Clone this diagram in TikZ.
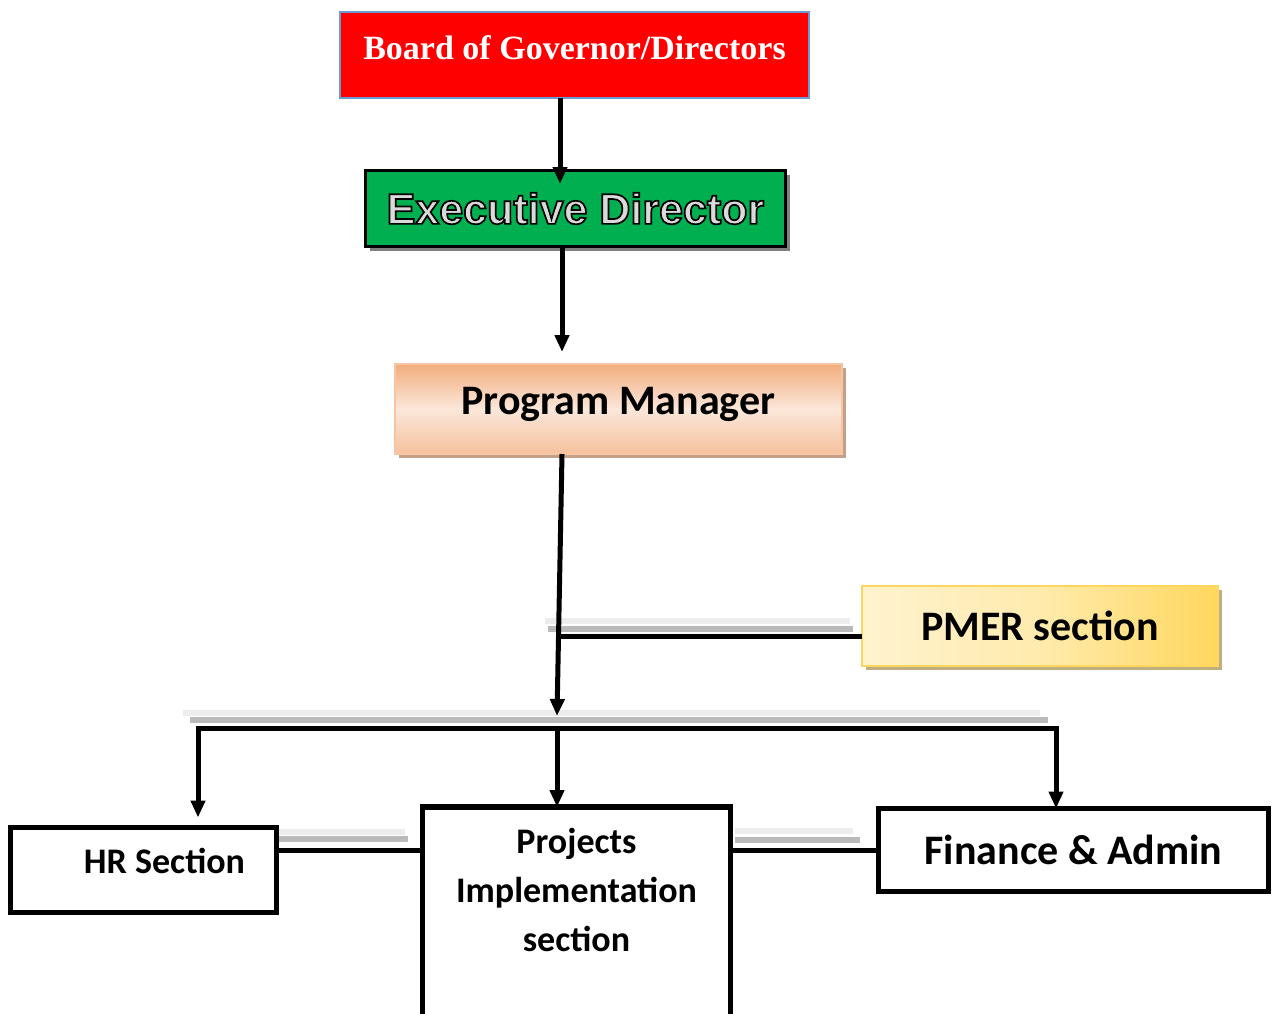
\documentclass[tikz,border=0pt]{standalone}
\usepackage{fontspec}
\setmainfont{Carlito}
\newfontfamily\boardfont{Liberation Serif}
\newfontfamily\edfont{Liberation Sans}
\usetikzlibrary{arrows.meta,shadows}

\definecolor{boardred}{HTML}{FF0000}
\definecolor{boardedge}{HTML}{6A9BD3}
\definecolor{edgreen}{HTML}{00B050}
\definecolor{edtext}{HTML}{DADADA}
\definecolor{edshadow}{HTML}{808080}
\definecolor{pmdark}{HTML}{F2AC7C}
\definecolor{pmlight}{HTML}{FBE7DA}
\definecolor{pmshadow}{HTML}{C5A088}
\definecolor{pmerdark}{HTML}{FFD75E}
\definecolor{pmerlight}{HTML}{FFF3CF}
\definecolor{pmershadow}{HTML}{BFAE80}

% outlined text: fill in the current colour, black stroke
\newcommand\outlined[1]{\special{pdf:literal direct 2 Tr 1.7 w 0 0 0 RG}#1\special{pdf:literal direct 0 Tr}}

\tikzset{
  unit/.style={draw=black,line width=5.5pt,fill=white,inner sep=0pt,outer sep=0pt},
  arrow/.style={line width=5pt,-{Triangle[length=17pt,width=14pt]}},
  link/.style={line width=5pt},
  ghostlight/.style={line width=6pt,black!7},
  ghostdark/.style={line width=6pt,black!27},
}

\begin{document}
\begin{tikzpicture}[x=1pt,y=-1pt]
  \useasboundingbox (0,0) rectangle (1273,1013);

  % Coordinates
  \coordinate (edtip) at (560,184);
  \coordinate (pmtip) at (562,352);
  \coordinate (bustip) at (557,716);
  \coordinate (busL) at (198,728);
  \coordinate (busM) at (557,728);
  \coordinate (busR) at (1056,728);
  \coordinate (pmerjoin) at (559,636);

  % Ghost lines
  \draw[ghostlight] (545,621) -- (850,621);
  \draw[ghostdark] (548,629) -- (853,629);
  \draw[ghostlight] (183,713) -- (1040,713);
  \draw[ghostdark] (190,720) -- (1048,720);
  \draw[ghostlight] (262,832) -- (405,832);
  \draw[ghostdark] (268,839) -- (408,839);
  \draw[ghostlight] (735,831) -- (853,831);
  \draw[ghostdark] (735,840) -- (860,840);

  % Boxes
  \node[fill=boardred,draw=boardedge,line width=2pt,outer sep=0pt,
    minimum width=469pt,minimum height=86pt,
    label={[yshift=7pt,text=white,
      font=\boardfont\bfseries\fontsize{34}{40}\selectfont]center:Board of Governor/Directors}]
    (board) at (574.5,55) {};

  \node[fill=edgreen,draw=black,line width=3pt,outer sep=0pt,
    minimum width=420pt,minimum height=76pt,
    drop shadow={shadow xshift=4pt,shadow yshift=-4pt,fill=edshadow,opacity=1},
    text=edtext,font=\edfont\bfseries\fontsize{43}{48}\selectfont]
    (ed) at (575.5,208.5) {\outlined{Executive Director}};

  \node[draw=pmdark!70,line width=1.5pt,outer sep=0pt,
    minimum width=447pt,minimum height=90pt,
    top color=pmdark,bottom color=pmdark!75,middle color=pmlight,
    drop shadow={shadow xshift=4pt,shadow yshift=-4pt,fill=pmshadow,opacity=1},
    label={[yshift=5pt,font=\bfseries\fontsize{42}{48}\selectfont]center:Program Manager}]
    (pm) at (618.5,409) {};

  \node[draw=pmerdark,line width=1.5pt,outer sep=0pt,
    minimum width=356pt,minimum height=80pt,
    left color=pmerlight,right color=pmerdark,middle color=pmerlight!70!pmerdark,
    drop shadow={shadow xshift=4pt,shadow yshift=-4pt,fill=pmershadow,opacity=1},
    font=\bfseries\fontsize{42}{48}\selectfont]
    (pmer) at (1040,626) {PMER section};

  \node[unit,minimum width=266pt,minimum height=85pt,
    label={[xshift=21pt,yshift=9pt,font=\bfseries\fontsize{36}{42}\selectfont]center:HR Section}]
    (hr) at (143.5,870) {};

  \node[unit,anchor=north,minimum width=308pt,minimum height=240pt,
    label={[anchor=north,yshift=-18pt,align=center,
      font=\bfseries\fontsize{36}{49}\selectfont]north:{Projects\\Implementation\\section}}]
    (proj) at (576.5,807) {};

  \node[unit,minimum width=390pt,minimum height=83pt,
    font=\bfseries\fontsize{42}{48}\selectfont]
    (fin) at (1073.5,850) {Finance \& Admin};

  % Lines
  \draw[arrow] (board.south -| edtip) -- (edtip);
  \draw[arrow] (ed.south -| pmtip) -- (pmtip);
  \draw[arrow] (pm.south -| pmtip) -- (bustip);
  \draw[link] (pmerjoin) -- (pmer.west |- pmerjoin);

  \draw[arrow] (busM) -- (busL) -- ([yshift=10pt]hr.north -| busL);
  \draw[arrow] (busM) -- (busR) -- (fin.north -| busR);
  \draw[arrow] (busM) -- (proj.north -| busM);

  \draw[link] (hr.east |- fin.west) -- (proj.west |- fin.west);
  \draw[link] (proj.east |- fin.west) -- (fin.west);

\end{tikzpicture}
\end{document}
